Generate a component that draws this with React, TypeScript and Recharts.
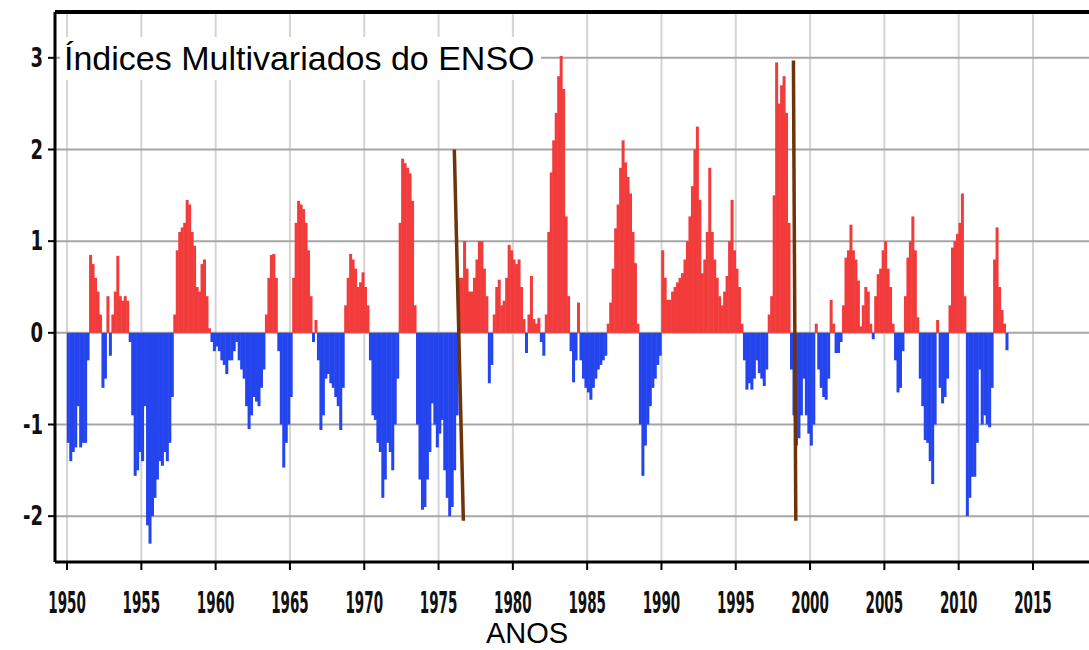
import { ComposedChart, Bar, XAxis, YAxis, CartesianGrid, ReferenceLine } from 'recharts';

// bimonthly MEI values (6 per year)
const mei1950s = [
  -1.2, -1.4, -1.3, -1.25, -0.8, -1.25,
  -1.2, -1.2, -0.3, 0.85, 0.75, 0.6,
  0.45, 0.2, -0.6, -0.5, 0.4, -0.25,
  0.2, 0.45, 0.84, 0.4, 0.35, 0.4,
  0.35, -0.1, -0.9, -1.56, -1.5, -1.3,
  -1.4, -0.8, -2.1, -2.3, -2.0, -1.8,
  -1.6, -1.4, -1.45, -1.3, -1.4, -1.2,
  -0.7, 0.2, 0.9, 1.1, 1.15, 1.2,
  1.45, 1.4, 1.1, 0.95, 0.5, 0.45,
  0.75, 0.8, 0.4, 0.05, -0.1, -0.2,
];
const mei1960s = [
  -0.15, -0.2, -0.3, -0.35, -0.45, -0.3,
  -0.3, -0.2, -0.1, -0.3, -0.4, -0.5,
  -0.8, -1.05, -0.9, -0.7, -0.75, -0.8,
  -0.6, -0.4, 0.2, 0.6, 0.85, 0.86,
  0.6, -0.2, -1.0, -1.47, -1.2, -1.0,
  -0.7, 0.6, 1.2, 1.44, 1.4, 1.35,
  1.2, 0.9, 0.4, -0.1, 0.14, -0.3,
  -1.06, -0.9, -0.5, -0.45, -0.55, -0.6,
  -0.7, -0.8, -1.06, -0.6, 0.3, 0.6,
  0.86, 0.8, 0.7, 0.5, 0.55, 0.66,
];
const mei1970s = [
  0.5, 0.3, -0.3, -0.9, -0.95, -1.2,
  -1.3, -1.8, -1.6, -1.2, -1.3, -1.5,
  -1.0, -0.5, 1.2, 1.9, 1.85, 1.8,
  1.74, 1.44, 0.3, -1.0, -1.6, -1.93,
  -1.9, -1.6, -1.3, -0.77, -1.0, -1.25,
  -1.1, -0.95, -1.5, -1.8, -2.0, -1.9,
  -1.5, -0.9, 0.6, 0.6, 1.0, 0.7,
  0.45, 0.45, 0.6, 0.8, 1.0, 1.0,
  0.7, 0.4, -0.55, -0.35, 0.2, 0.5,
  0.58, 0.3, 0.35, 0.6, 0.96, 0.9,
];
const mei1980s = [
  0.8, 0.75, 0.8, 0.5, 0.15, -0.22,
  0.2, 0.62, 0.15, 0.1, 0.16, -0.1,
  -0.25, 0.2, 1.1, 1.75, 2.1, 2.4,
  2.8, 3.02, 2.66, 1.27, 0.4, -0.2,
  -0.54, -0.3, 0.33, -0.3, -0.5, -0.6,
  -0.65, -0.73, -0.6, -0.5, -0.4, -0.35,
  -0.3, -0.25, 0.1, 0.33, 0.7, 1.14,
  1.4, 1.8, 2.1, 1.86, 1.7, 1.52,
  1.1, 0.76, 0.1, -1.0, -1.56, -1.23,
  -1.0, -0.8, -0.6, -0.5, -0.35, -0.25,
];
const mei1990s = [
  0.9, 0.6, 0.36, 0.36, 0.45, 0.5,
  0.55, 0.6, 0.65, 0.8, 1.0, 1.27,
  1.6, 2.0, 2.25, 1.45, 0.65, 0.8,
  1.1, 1.8, 1.1, 0.8, 0.6, 0.4,
  0.3, 0.45, 0.62, 1.0, 1.45, 0.9,
  0.7, 0.5, 0.1, -0.3, -0.62, -0.55,
  -0.62, -0.5, -0.3, -0.44, -0.5, -0.58,
  -0.4, 0.2, 0.4, 1.5, 2.95, 2.5,
  2.7, 2.8, 2.4, 1.2, -0.4, -0.9,
  -1.23, -1.15, -0.9, -0.5, -0.9, -1.1,
];
const mei2000s = [
  -1.23, -1.0, 0.1, -0.4, -0.6, -0.7,
  -0.73, -0.5, 0.36, 0.1, -0.22, -0.22,
  -0.1, 0.3, 0.82, 0.9, 1.18, 0.9,
  0.8, 0.57, 0.07, 0.3, 0.5, 0.45,
  0.1, -0.07, 0.4, 0.64, 0.7, 0.9,
  1.0, 0.7, 0.5, 0.1, -0.3, -0.65,
  -0.6, -0.2, 0.4, 0.82, 1.0, 1.27,
  0.9, 0.17, -0.5, -0.8, -1.17, -1.2,
  -1.4, -1.65, -1.0, 0.14, -0.6, -0.77,
  -0.7, -0.5, 0.3, 0.93, 1.0, 1.08,
];
const mei2010s = [
  1.2, 1.52, 0.4, -2.0, -1.8, -1.57,
  -1.57, -1.2, -0.4, -1.0, -0.9, -1.0,
  -1.03, -0.6, 0.8, 1.15, 0.5, 0.25,
  0.1, -0.19,
];

const decadeStarts = [1950, 1960, 1970, 1980, 1990, 2000, 2010];
const decades = [mei1950s, mei1960s, mei1970s, mei1980s, mei1990s, mei2000s, mei2010s];

const yearTicks = [1950, 1955, 1960, 1965, 1970, 1975, 1980, 1985, 1990, 1995, 2000, 2005, 2010, 2015];
const indexTicks = [-2, -1, 0, 1, 2, 3];

// brown marker lines (year, index) at both ends
const transitionLines = [
  { x1: 1976.06, y1: 2.0, x2: 1976.67, y2: -2.05 },
  { x1: 1998.88, y1: 2.97, x2: 1999.04, y2: -2.05 },
];

const chartData = decades.flatMap((vals, d) =>
  vals.map((v, i) => ({ t: decadeStarts[d] + (i + 0.5) / 6, mei: v }))
);

const POS_COLOR = '#f23b3b';
const NEG_COLOR = '#2444ee';
const TICK_FONT = "'DejaVu Sans Condensed', 'Liberation Sans Narrow', 'DejaVu Sans', sans-serif";

// bars a little wider than the band so neighbouring months merge
function MeiBar(props: any) {
  const { x, y, width, height, payload } = props;
  if (x == null || y == null) return null;
  const top = Math.min(y, y + height);
  return (
    <rect
      x={x - 0.5}
      y={top}
      width={width + 1}
      height={Math.abs(height)}
      fill={payload.mei >= 0 ? POS_COLOR : NEG_COLOR}
    />
  );
}

function YearTick({ x, y, payload }: any) {
  return (
    <text
      transform={`translate(${x},${y + 41}) scale(0.75,1.55)`}
      textAnchor="middle"
      fontFamily={TICK_FONT}
      fontWeight="bold"
      fontSize={20}
      fill="#111"
    >
      {payload.value}
    </text>
  );
}

function IndexTick({ x, y, payload }: any) {
  return (
    <text
      transform={`translate(${x - 3},${y + 9}) scale(1.0,1.3)`}
      textAnchor="end"
      fontFamily={TICK_FONT}
      fontWeight="bold"
      fontSize={20}
      fill="#111"
    >
      {payload.value}
    </text>
  );
}

export default function App() {
  return (
    <div
      style={{
        position: 'absolute',
        left: 0,
        top: 0,
        width: 1089,
        height: 650,
        overflow: 'hidden',
        background: '#fff',
      }}
    >
      <ComposedChart
        width={1100}
        height={650}
        data={chartData}
        margin={{ top: 12, right: 0, bottom: 0, left: 0 }}
      >
        <CartesianGrid horizontal={false} stroke="#d4d4d4" strokeWidth={2} />
        <CartesianGrid vertical={false} stroke="#a6a6a6" strokeWidth={2} />
        <XAxis
          type="number"
          dataKey="t"
          domain={[1949.19, 2019.51]}
          allowDataOverflow
          ticks={yearTicks}
          height={88}
          tickSize={8}
          axisLine={{ stroke: '#000', strokeWidth: 3 }}
          tickLine={{ stroke: '#000', strokeWidth: 2 }}
          tick={<YearTick />}
        />
        <YAxis
          type="number"
          domain={[-2.5, 3.5]}
          allowDataOverflow
          ticks={indexTicks}
          width={55}
          tickSize={7}
          axisLine={{ stroke: '#000', strokeWidth: 3 }}
          tickLine={{ stroke: '#000', strokeWidth: 2 }}
          tick={<IndexTick />}
        />
        <Bar dataKey="mei" isAnimationActive={false} shape={<MeiBar />} />
        {transitionLines.map((s, i) => (
          <ReferenceLine
            key={i}
            segment={[
              { x: s.x1, y: s.y1 },
              { x: s.x2, y: s.y2 },
            ]}
            stroke="#6e3408"
            strokeWidth={3.5}
            ifOverflow="visible"
          />
        ))}
        <ReferenceLine y={3.5} stroke="#000" strokeWidth={4} ifOverflow="visible" />
      </ComposedChart>
      <div
        style={{
          position: 'absolute',
          left: 60,
          top: 37,
          padding: '0 6px 0 4px',
          background: '#fff',
          fontFamily: "'Liberation Sans', Arial, sans-serif",
          fontSize: 34,
          lineHeight: '43px',
          color: '#000',
          whiteSpace: 'nowrap',
        }}
      >
        Índices Multivariados do ENSO
      </div>
      <div
        style={{
          position: 'absolute',
          left: 427,
          top: 620,
          width: 200,
          textAlign: 'center',
          fontFamily: "'Liberation Sans', Arial, sans-serif",
          fontSize: 29,
          lineHeight: '27px',
          color: '#000',
        }}
      >
        ANOS
      </div>
    </div>
  );
}
